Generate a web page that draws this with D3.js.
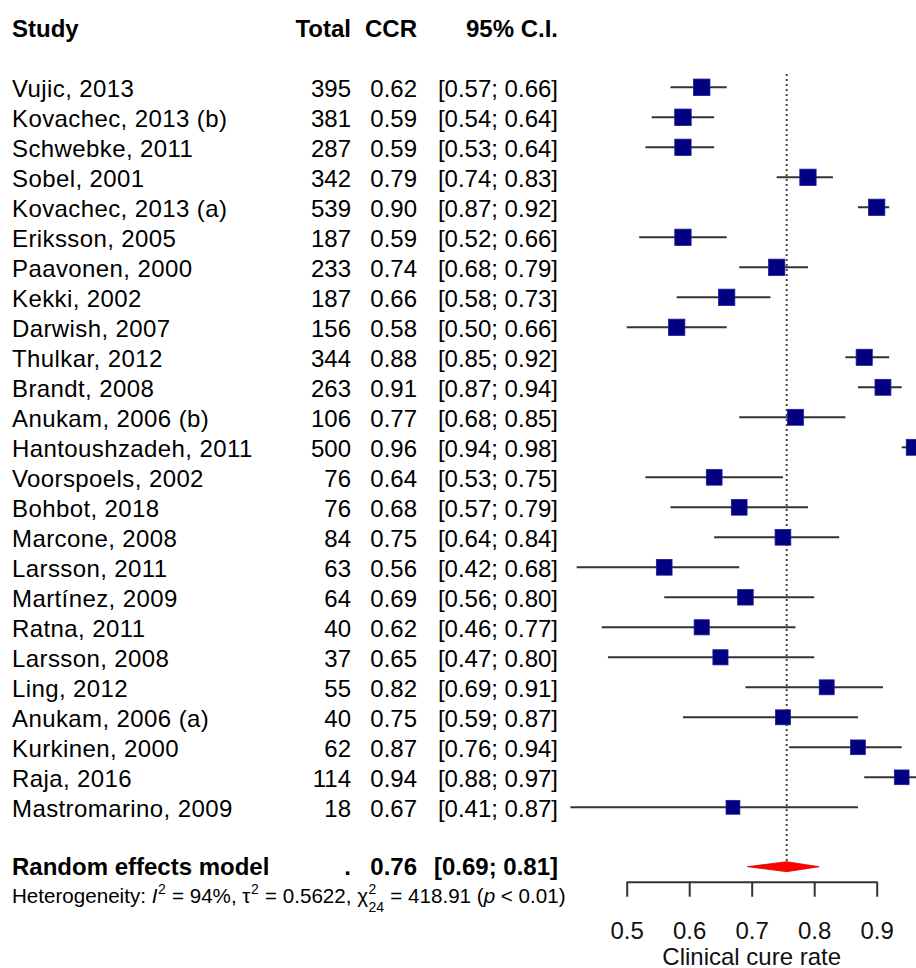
<!DOCTYPE html>
<html>
<head>
<meta charset="utf-8">
<script src="https://cdn.jsdelivr.net/npm/d3@7"></script>
<style>
  body { margin: 0; background: #fff; }
  svg { display: block; font-family: "Liberation Sans", Arial, sans-serif; }
</style>
</head>
<body>
<div id="chart"></div>
<script>
// study data
const studies = ["Vujic, 2013","Kovachec, 2013 (b)","Schwebke, 2011","Sobel, 2001","Kovachec, 2013 (a)",
  "Eriksson, 2005","Paavonen, 2000","Kekki, 2002","Darwish, 2007","Thulkar, 2012","Brandt, 2008",
  "Anukam, 2006 (b)","Hantoushzadeh, 2011","Voorspoels, 2002","Bohbot, 2018","Marcone, 2008",
  "Larsson, 2011","Martínez, 2009","Ratna, 2011","Larsson, 2008","Ling, 2012","Anukam, 2006 (a)",
  "Kurkinen, 2000","Raja, 2016","Mastromarino, 2009"];
const totals = [395,381,287,342,539,187,233,187,156,344,263,106,500,76,76,84,63,64,40,37,55,40,62,114,18];
const ccr   = [0.62,0.59,0.59,0.79,0.90,0.59,0.74,0.66,0.58,0.88,0.91,0.77,0.96,0.64,0.68,0.75,0.56,0.69,0.62,0.65,0.82,0.75,0.87,0.94,0.67];
const lower = [0.57,0.54,0.53,0.74,0.87,0.52,0.68,0.58,0.50,0.85,0.87,0.68,0.94,0.53,0.57,0.64,0.42,0.56,0.46,0.47,0.69,0.59,0.76,0.88,0.41];
const upper = [0.66,0.64,0.64,0.83,0.92,0.66,0.79,0.73,0.66,0.92,0.94,0.85,0.98,0.75,0.79,0.84,0.68,0.80,0.77,0.80,0.91,0.87,0.94,0.97,0.87];
// approx. random effects weights (%), only used for square size
const weights = [4.4,4.4,4.3,4.3,4.3,4.3,4.3,4.3,4.3,4.2,4.1,4.1,4.1,4.0,4.0,4.0,4.0,3.9,3.7,3.7,3.6,3.6,3.5,3.5,3.1];

// pooled estimate
const pooled = {est: 0.756, lo: 0.693, hi: 0.808};
const hetI2 = 94, hetTau2 = "0.5622", hetQ = "418.91", hetDf = 24, hetP = "0.01";

const xTicks = [0.5, 0.6, 0.7, 0.8, 0.9];

const w = 916, h = 968;
const fmt = d3.format(".2f");

const svg = d3.select("#chart").append("svg")
  .attr("width", w)
  .attr("height", h);

const x = d3.scaleLinear().domain([0.5, 0.9]).range([626.7, 876.7]);
const y = d3.scalePoint().domain(d3.range(studies.length)).range([87.3, 807.3]);
const size = d3.scaleSqrt().domain([0, 4.4]).range([0, 16.5]);

const rows = studies.map((s, i) => ({name: s, n: totals[i], est: ccr[i], lo: lower[i], hi: upper[i], wt: weights[i], i: i}));

// column headers
const head = svg.append("g").style("font-weight", "bold").style("font-size", "24px").attr("fill", "#000");
head.append("text").attr("x", 12).attr("y", 37).text("Study");
head.append("text").attr("x", 351).attr("y", 37).attr("text-anchor", "end").text("Total");
head.append("text").attr("x", 417).attr("y", 37).attr("text-anchor", "end").text("CCR");
head.append("text").attr("x", 558).attr("y", 37).attr("text-anchor", "end").text("95% C.I.");

// study text columns
const tab = svg.append("g").style("font-size", "24px").attr("fill", "#000");
const tr = tab.selectAll("g.row").data(rows).enter().append("g")
  .attr("class", "row")
  .attr("transform", d => "translate(0," + (y(d.i) + 9.5) + ")");
tr.append("text").attr("x", 12).style("letter-spacing", "0.4px").text(d => d.name);
tr.append("text").attr("x", 351).attr("text-anchor", "end").text(d => d.n);
tr.append("text").attr("x", 417).attr("text-anchor", "end").text(d => fmt(d.est));
tr.append("text").attr("x", 558).attr("text-anchor", "end").text(d => "[" + fmt(d.lo) + "; " + fmt(d.hi) + "]");

// confidence interval lines
svg.append("g").selectAll("line").data(rows).enter().append("line")
  .attr("x1", d => x(d.lo))
  .attr("x2", d => x(d.hi))
  .attr("y1", d => y(d.i))
  .attr("y2", d => y(d.i))
  .attr("stroke", "#333")
  .attr("stroke-width", 2);

// reference line at the pooled estimate
svg.append("line")
  .attr("x1", x(pooled.est)).attr("x2", x(pooled.est))
  .attr("y1", 74).attr("y2", 862)
  .attr("stroke", "#444")
  .attr("stroke-width", 2)
  .attr("stroke-dasharray", "2,3");

// squares
svg.append("g").selectAll("rect").data(rows).enter().append("rect")
  .attr("x", d => x(d.est) - size(d.wt) / 2)
  .attr("y", d => y(d.i) - size(d.wt) / 2)
  .attr("width", d => size(d.wt))
  .attr("height", d => size(d.wt))
  .attr("fill", "#000080")
  .attr("stroke", "#1c1c9c")
  .attr("stroke-width", 0.8);

// random effects summary
const yPool = 866.7;
svg.append("path")
  .attr("d", "M" + x(pooled.lo) + "," + yPool + "L" + x(pooled.est) + "," + (yPool - 5) +
             "L" + x(pooled.hi) + "," + yPool + "L" + x(pooled.est) + "," + (yPool + 5) + "Z")
  .attr("fill", "#ff0000")
  .attr("stroke", "#e00000")
  .attr("stroke-width", 0.8);

const pool = svg.append("g").style("font-weight", "bold").style("font-size", "24px").attr("fill", "#000");
pool.append("text").attr("x", 12).attr("y", 875).text("Random effects model");
pool.append("text").attr("x", 351).attr("y", 875).attr("text-anchor", "end").text(".");
pool.append("text").attr("x", 417).attr("y", 875).attr("text-anchor", "end").text(fmt(pooled.est));
pool.append("text").attr("x", 558).attr("y", 875).attr("text-anchor", "end").text("[" + fmt(pooled.lo) + "; " + fmt(pooled.hi) + "]");

// heterogeneity line, pieces laid out one after the other
const het = [
  {t: "Heterogeneity: "}, {t: "I", it: true}, {sup: "2"}, {t: " = " + hetI2 + "%, "},
  {t: "τ"}, {sup: "2"}, {t: " = " + hetTau2 + ", "},
  {t: "χ"}, {sup: "2", sub: String(hetDf)}, {t: " = " + hetQ + " ("}, {t: "p", it: true}, {t: " < " + hetP + ")"}
];
const hg = svg.append("g").attr("fill", "#000");
let cx = 12;
const hy = 903;
het.forEach(p => {
  if (p.t !== undefined) {
    const t = hg.append("text").attr("x", cx).attr("y", hy)
      .style("font-size", "20.6px")
      .style("font-style", p.it ? "italic" : "normal")
      .attr("xml:space", "preserve")
      .style("white-space", "pre")
      .text(p.t);
    cx += t.node().getComputedTextLength();
  } else {
    let adv = 0;
    const s = hg.append("text").attr("x", cx + 0.5).attr("y", hy - 9.5).style("font-size", "14px").text(p.sup);
    adv = s.node().getComputedTextLength();
    if (p.sub) {
      const b = hg.append("text").attr("x", cx + 0.5).attr("y", hy + 8.5).style("font-size", "14px").text(p.sub);
      adv = Math.max(adv, b.node().getComputedTextLength());
    }
    cx += adv + 1;
  }
});

// x axis
const axis = svg.append("g")
  .attr("transform", "translate(0,881.7)")
  .call(d3.axisBottom(x).tickValues(xTicks).tickSize(15).tickSizeOuter(0).tickFormat(d3.format(".1f")));
axis.select(".domain").attr("stroke", "#333").attr("stroke-width", 2);
axis.selectAll(".tick line").attr("stroke", "#333").attr("stroke-width", 2);
axis.selectAll(".tick text")
  .attr("y", 57)
  .attr("dy", null)
  .attr("fill", "#111")
  .style("font-size", "24px")
  .style("font-family", "'Liberation Sans', Arial, sans-serif");

svg.append("text")
  .attr("x", x(0.7))
  .attr("y", 964.5)
  .attr("text-anchor", "middle")
  .style("font-size", "24px")
  .attr("fill", "#111")
  .text("Clinical cure rate");
</script>
</body>
</html>
